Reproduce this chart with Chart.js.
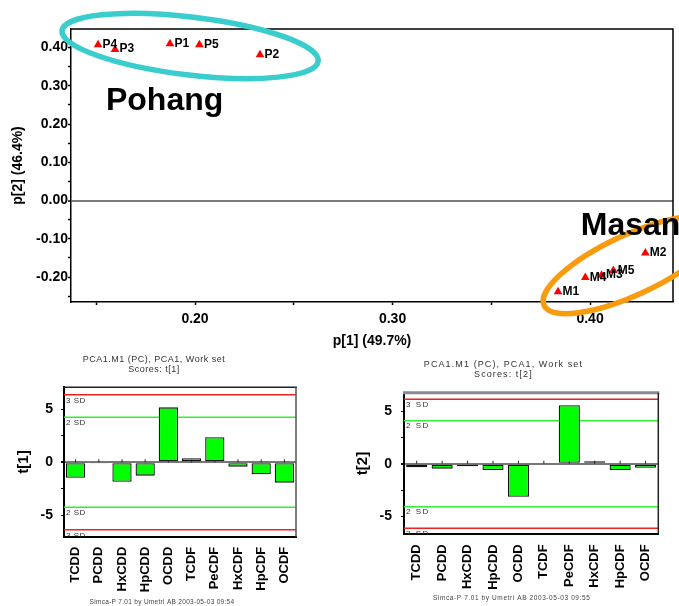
<!DOCTYPE html>
<html>
<head>
<meta charset="utf-8">
<script src="https://cdn.jsdelivr.net/npm/chart.js@4.4.1/dist/chart.umd.min.js"></script>
<style>
  body { margin: 0; background: #fff; }
  #wrap { position: relative; width: 679px; height: 606px; overflow: hidden; }
  canvas { position: absolute; }
</style>
</head>
<body>
<div id="wrap">
  <canvas id="scoreChart" width="679" height="350" style="left:0;top:0;width:679px;height:350px"></canvas>
  <canvas id="t1Chart" width="340" height="256" style="left:0;top:350px;width:340px;height:256px"></canvas>
  <canvas id="t2Chart" width="339" height="256" style="left:340px;top:350px;width:339px;height:256px"></canvas>
</div>
<script>
// ---- DATA
var sampleNames = ['P1', 'P2', 'P3', 'P4', 'P5', 'M1', 'M2', 'M3', 'M4', 'M5'];
var p1Values    = [0.1873, 0.2329, 0.1595, 0.1509, 0.2022, 0.3838, 0.4280, 0.4058, 0.3976, 0.4118];
var p2Values    = [0.410, 0.381, 0.395, 0.407, 0.407, -0.238, -0.137, -0.195, -0.201, -0.183];
var xTickValues = [0.15, 0.20, 0.25, 0.30, 0.35, 0.40];
var yTickValues = [-0.25, -0.20, -0.15, -0.10, -0.05, 0, 0.05, 0.10, 0.15, 0.20, 0.25, 0.30, 0.35, 0.40];

var groupNames   = ['Pohang', 'Masan'];
var groupColors  = ['#3acdcd', '#f89c0e'];
var groupCenterX = [0.1975, 0.4208];   // ellipse centres, p[1] units
var groupCenterY = [0.404, -0.168];    // ellipse centres, p[2] units
var groupTextX   = [0.1549, 0.3953];
var groupTextY   = [0.237, -0.0896];

var congeners = ['TCDD', 'PCDD', 'HxCDD', 'HpCDD', 'OCDD', 'TCDF', 'PeCDF', 'HxCDF', 'HpCDF', 'OCDF'];
var t1Scores  = [-1.45, -0.07, -1.83, -1.26, 5.19, 0.38, 2.36, -0.41, -1.13, -1.92];
var t2Scores  = [-0.34, -0.47, -0.25, -0.60, -3.13, 0.0, 5.55, 0.23, -0.63, -0.38];
var t1SdLimits = [4.25, 6.37];   // 2 SD, 3 SD
var t2SdLimits = [4.08, 6.12];
var sdLabels   = ['2 SD', '3 SD'];
var barTickValues = [-5, -2.5, 0, 2.5, 5];

var FONT = "'Liberation Sans', Arial, sans-serif";
Chart.defaults.font.family = FONT;
Chart.defaults.color = '#000';

function isLabeled(v){
    return Math.abs(v * 10 - Math.round(v * 10)) < 1e-6;
}

//---------- SCORE SCATTER (top)

var pointLabelPlugin = {
    id: 'pointLabels',
    afterDatasetsDraw: function(chart){
        var ctx = chart.ctx;
        var meta = chart.getDatasetMeta(0);
        ctx.save();
        ctx.font = 'bold 12px ' + FONT;
        ctx.fillStyle = '#000';
        ctx.textBaseline = 'alphabetic';
        meta.data.forEach(function(pt, i){
            ctx.fillText(sampleNames[i], pt.x + 4.5, pt.y + 3);
        });
        ctx.restore();
    }
};

var groupPlugin = {
    id: 'groups',
    afterDraw: function(chart){
        var ctx = chart.ctx;
        var a = chart.chartArea;
        var xs = chart.scales.x, ys = chart.scales.y;
        ctx.save();
        // frame top + right
        ctx.strokeStyle = '#000';
        ctx.lineWidth = 1.5;
        ctx.beginPath();
        ctx.moveTo(a.left, a.top);
        ctx.lineTo(a.right, a.top);
        ctx.lineTo(a.right, a.bottom);
        ctx.stroke();
        // ellipses round each group
        var radii = [[129, 29, 6.8], [96, 30, -25]];
        for (var i = 0; i < groupNames.length; i++){
            ctx.beginPath();
            ctx.ellipse(xs.getPixelForValue(groupCenterX[i]), ys.getPixelForValue(groupCenterY[i]),
                        radii[i][0], radii[i][1], radii[i][2] * Math.PI / 180, 0, 2 * Math.PI);
            ctx.lineWidth = 5.5;
            ctx.strokeStyle = groupColors[i];
            ctx.stroke();
        }
        ctx.font = 'bold 32px ' + FONT;
        ctx.fillStyle = '#000';
        ctx.textBaseline = 'alphabetic';
        for (var j = 0; j < groupNames.length; j++){
            ctx.fillText(groupNames[j], xs.getPixelForValue(groupTextX[j]), ys.getPixelForValue(groupTextY[j]));
        }
        ctx.restore();
    }
};

var scatterPoints = p1Values.map(function(v, i){ return {x: v, y: p2Values[i]}; });

new Chart(document.getElementById('scoreChart'), {
    type: 'scatter',
    data: {
        datasets: [{
            data: scatterPoints,
            pointStyle: 'triangle',
            pointRadius: 5,
            pointBackgroundColor: '#ff0000',
            pointBorderColor: '#ff0000',
            pointBorderWidth: 0
        }]
    },
    options: {
        responsive: false,
        animation: false,
        layout: { padding: { left: 0, right: 6, top: 29, bottom: 0 } },
        plugins: { legend: { display: false }, tooltip: { enabled: false } },
        scales: {
            x: {
                type: 'linear', min: 0.1372, max: 0.442,
                afterBuildTicks: function(s){ s.ticks = xTickValues.map(function(v){ return {value: v}; }); },
                afterFit: function(s){ s.height = 48; },
                ticks: {
                    callback: function(v){ return isLabeled(v) ? v.toFixed(2) : ''; },
                    font: { size: 14, weight: 'bold' }, color: '#000',
                    padding: 6, maxRotation: 0, autoSkip: false
                },
                grid: { drawOnChartArea: false, tickLength: 3, tickColor: '#000', tickWidth: 1.5 },
                border: { color: '#000', width: 1.5 },
                title: { display: true, text: 'p[1] (49.7%)', font: { size: 14, weight: 'bold' }, color: '#000', padding: { top: 0, bottom: 0 } }
            },
            y: {
                type: 'linear', min: -0.265, max: 0.4483,
                afterBuildTicks: function(s){ s.ticks = yTickValues.map(function(v){ return {value: v}; }); },
                afterFit: function(s){ s.width = 71; },
                ticks: {
                    callback: function(v){ return isLabeled(v) ? v.toFixed(2) : ''; },
                    font: { size: 14, weight: 'bold' }, color: '#000',
                    padding: 0, autoSkip: false
                },
                grid: {
                    drawOnChartArea: true, tickLength: 3, tickColor: '#000', tickWidth: 1.5,
                    color: function(c){ return c.tick && c.tick.value === 0 ? '#7a7a7a' : 'rgba(0,0,0,0)'; },
                    lineWidth: function(c){ return c.tick && c.tick.value === 0 ? 2 : 1; }
                },
                border: { color: '#000', width: 1.5 },
                title: { display: true, text: 'p[2] (46.4%)', font: { size: 14, weight: 'bold' }, color: '#000', padding: { top: 10, bottom: 0 } }
            }
        }
    },
    plugins: [pointLabelPlugin, groupPlugin]
});

//---------- SCORE BARS (bottom)

function makeSdPlugin(limits, look){
    return {
        id: 'sdLines',
        beforeDatasetsDraw: function(chart){
            var ctx = chart.ctx, a = chart.chartArea, ys = chart.scales.y, xs = chart.scales.x;
            ctx.save();
            ctx.beginPath();
            ctx.rect(a.left, a.top, a.right - a.left, a.bottom - a.top);
            ctx.clip();
            var colors = ['#33ee33', '#ee2222'];
            ctx.font = '8px ' + FONT;
            ctx.letterSpacing = look.sdSpacing;
            ctx.textBaseline = 'top';
            for (var i = 0; i < limits.length; i++){
                [limits[i], -limits[i]].forEach(function(v){
                    var py = ys.getPixelForValue(v);
                    ctx.strokeStyle = colors[i];
                    ctx.lineWidth = 1.5;
                    ctx.beginPath();
                    ctx.moveTo(a.left, py);
                    ctx.lineTo(a.right, py);
                    ctx.stroke();
                    ctx.fillStyle = '#333';
                    ctx.fillText(sdLabels[i], a.left + 2, py + 1.5);
                });
            }
            // small category ticks on the zero line
            var zy = ys.getPixelForValue(0);
            ctx.strokeStyle = '#222';
            ctx.lineWidth = 1;
            for (var k = 0; k < congeners.length; k++){
                var px = xs.getPixelForValue(k);
                ctx.beginPath();
                ctx.moveTo(px, zy - 3);
                ctx.lineTo(px, zy);
                ctx.stroke();
            }
            ctx.restore();
        },
        afterDraw: function(chart){
            var ctx = chart.ctx, a = chart.chartArea;
            ctx.save();
            ctx.strokeStyle = look.topColor;
            ctx.lineWidth = look.topWidth;
            ctx.beginPath();
            ctx.moveTo(a.left - 1, a.top);
            ctx.lineTo(a.right + 1, a.top);
            ctx.stroke();
            ctx.strokeStyle = look.rightColor;
            ctx.lineWidth = 1.5;
            ctx.beginPath();
            ctx.moveTo(a.right, a.top);
            ctx.lineTo(a.right, a.bottom);
            ctx.stroke();
            // header and footer text
            ctx.fillStyle = '#333';
            ctx.textAlign = 'center';
            ctx.textBaseline = 'middle';
            ctx.font = '9px ' + FONT;
            ctx.letterSpacing = look.titleSpacing;
            ctx.fillText(look.title[0], look.titleX, look.titleY[0]);
            ctx.fillText(look.title[1], look.titleX, look.titleY[1]);
            ctx.font = '6.5px ' + FONT;
            ctx.letterSpacing = look.footSpacing;
            ctx.fillStyle = '#444';
            ctx.fillText(look.footer, look.footX, look.footY);
            ctx.restore();
        }
    };
}

function makeBarChart(canvasId, scores, limits, axisTitle, look){
    return new Chart(document.getElementById(canvasId), {
        type: 'bar',
        data: {
            labels: congeners,
            datasets: [{
                data: scores,
                backgroundColor: '#00ff00',
                borderColor: '#111',
                borderWidth: 1.3,
                borderSkipped: false,
                barPercentage: 0.83,
                categoryPercentage: 1
            }]
        },
        options: {
            responsive: false,
            animation: false,
            layout: { padding: { left: 0, right: look.padRight, top: look.padTop, bottom: 0 } },
            plugins: { legend: { display: false }, tooltip: { enabled: false } },
            scales: {
                x: {
                    afterFit: function(s){ s.height = look.xHeight; },
                    ticks: {
                        font: { size: 13, weight: 'bold' }, color: '#000',
                        maxRotation: 90, minRotation: 90, padding: 10, autoSkip: false
                    },
                    grid: { display: false, drawTicks: false },
                    border: { color: '#000', width: 2 }
                },
                y: {
                    min: look.yMin, max: look.yMax,
                    afterBuildTicks: function(s){ s.ticks = barTickValues.map(function(v){ return {value: v}; }); },
                    afterFit: function(s){ s.width = 64; },
                    ticks: {
                        callback: function(v){ return v % 5 === 0 ? String(v) : ''; },
                        font: { size: 14, weight: 'bold' }, color: '#000',
                        padding: look.yPad, autoSkip: false
                    },
                    grid: {
                        drawOnChartArea: true, tickLength: 3, tickColor: '#000',
                        color: function(c){ return c.tick && c.tick.value === 0 ? '#777' : 'rgba(0,0,0,0)'; },
                        lineWidth: function(c){ return c.tick && c.tick.value === 0 ? 2 : 1; }
                    },
                    border: { color: '#000', width: 2 },
                    title: { display: true, text: axisTitle, font: { size: 15, weight: 'bold' }, color: '#000', padding: { top: look.titlePad, bottom: 0 } }
                }
            }
        },
        plugins: [makeSdPlugin(limits, look)]
    });
}

makeBarChart('t1Chart', t1Scores, t1SdLimits, 't[1]', {
    padRight: 44, padTop: 37.3, xHeight: 69.3, yMin: -7.02, yMax: 7.08, yPad: 8, titlePad: 15,
    topColor: '#222', topWidth: 1.5, rightColor: '#555',
    title: ['PCA1.M1 (PC), PCA1, Work set', 'Scores: t[1]'], titleX: 154, titleY: [9.3, 20], titleSpacing: '0.5px',
    footer: 'Simca-P 7.01 by Umetri AB 2003-05-03 09:54', footX: 162, footY: 252.7, footSpacing: '0.3px',
    sdSpacing: '0.5px'
});

makeBarChart('t2Chart', t2Scores, t2SdLimits, 't[2]', {
    padRight: 20.7, padTop: 42.7, xHeight: 71.7, yMin: -6.7, yMax: 6.74, yPad: 9, titlePad: 13.7,
    topColor: '#8a8a8a', topWidth: 3, rightColor: '#222',
    title: ['PCA1.M1 (PC), PCA1, Work set', 'Scores: t[2]'], titleX: 163.4, titleY: [15, 24.3], titleSpacing: '1.1px',
    footer: 'Simca-P 7.01 by Umetri AB 2003-05-03 09:55', footX: 171.7, footY: 248.3, footSpacing: '0.6px',
    sdSpacing: '1.5px'
});
</script>
</body>
</html>
